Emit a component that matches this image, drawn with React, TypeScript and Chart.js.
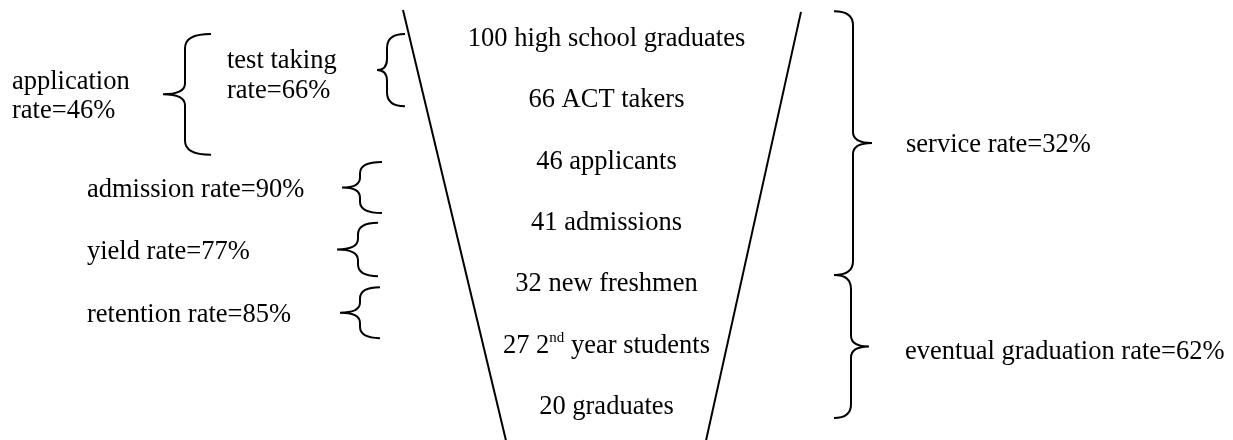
import React, { useEffect, useRef } from "react";
import { Chart, registerables } from "chart.js";

Chart.register(...registerables);

// ---- data ----
const stageCounts = [100, 66, 46, 41, 32, 27, 20];
const stageNames = [
  "high school graduates",
  "ACT takers",
  "applicants",
  "admissions",
  "new freshmen",
  "2nd year students",
  "graduates",
];

const rateNames = [
  "application rate",
  "test taking rate",
  "admission rate",
  "yield rate",
  "retention rate",
  "service rate",
  "eventual graduation rate",
];
const rateValues = [46, 66, 90, 77, 85, 32, 62];
// span of each rate's brace, in stage units (stage rows are 0..6)
const rateSpanFrom = [-0.05, -0.05, 2.04, 3.03, 4.08, -0.42, 3.88];
const rateSpanTo = [1.92, 1.13, 2.87, 3.9, 4.91, 3.88, 6.21];

// funnel outline (x in diagram units, y in stage units)
const funnelLeftX = [403, 506];
const funnelRightX = [801, 706];
const funnelLeftY = [-0.44, 6.58];
const funnelRightY = [-0.41, 6.58];

// ---- layout (positions / styles) ----
const W = 1233;
const H = 440;
const Y_MIN = -0.6033;
const Y_MAX = 6.5707;
const CENTER_X = 606.5;
const FONT = '"Liberation Serif", "Times New Roman", serif';
const FONT_SIZE = 26.5;
const BASE_OFF = 9;
const LINE_GAP = 29.5;

const rateLayout = [
  { labelX: 12, wrap: true, dy: 0, xEnd: 211, xBody: 185, xTip: 163 },
  { labelX: 227, wrap: true, dy: 4, xEnd: 405, xBody: 387, xTip: 377 },
  { labelX: 87, wrap: false, dy: 0, xEnd: 382, xBody: 360, xTip: 342 },
  { labelX: 87, wrap: false, dy: 0, xEnd: 378, xBody: 358, xTip: 337 },
  { labelX: 87, wrap: false, dy: 0, xEnd: 380, xBody: 360, xTip: 340 },
  { labelX: 906, wrap: false, dy: 0, xEnd: 834, xBody: 853, xTip: 872 },
  { labelX: 905, wrap: false, dy: 4, xEnd: 834, xBody: 851, xTip: 869 },
];

function drawBrace(ctx: CanvasRenderingContext2D, xEnd: number, xBody: number, xTip: number, yTop: number, yBot: number) {
  const yMid = (yTop + yBot) / 2;
  const r = Math.min(14, (yBot - yTop) / 4.5);
  const rm = Math.min(11, (yBot - yTop) / 5);
  ctx.beginPath();
  ctx.moveTo(xEnd, yTop);
  ctx.quadraticCurveTo(xBody, yTop, xBody, yTop + r);
  ctx.lineTo(xBody, yMid - rm);
  ctx.quadraticCurveTo(xBody, yMid, xTip, yMid);
  ctx.quadraticCurveTo(xBody, yMid, xBody, yMid + rm);
  ctx.lineTo(xBody, yBot - r);
  ctx.quadraticCurveTo(xBody, yBot, xEnd, yBot);
  ctx.stroke();
}

function drawStageText(ctx: CanvasRenderingContext2D, text: string, cx: number, baseline: number) {
  const m = text.match(/^(\d+ \d+)(st|nd|rd|th)( .*)$/);
  const parts = m
    ? [
        { t: m[1], size: FONT_SIZE, rise: 0 },
        { t: m[2], size: 15, rise: 11 },
        { t: m[3], size: FONT_SIZE, rise: 0 },
      ]
    : [{ t: text, size: FONT_SIZE, rise: 0 }];
  let total = 0;
  const widths = parts.map((p) => {
    ctx.font = `${p.size}px ${FONT}`;
    const w = ctx.measureText(p.t).width;
    total += w;
    return w;
  });
  let x = cx - total / 2;
  parts.forEach((p, i) => {
    ctx.font = `${p.size}px ${FONT}`;
    ctx.fillText(p.t, x, baseline - p.rise);
    x += widths[i];
  });
}

const diagramPlugin = {
  id: "funnelDiagram",
  afterDatasetsDraw(chart: any) {
    const { ctx } = chart;
    const xs = chart.scales.x;
    const ys = chart.scales.y;
    ctx.save();
    ctx.fillStyle = "#000";
    ctx.strokeStyle = "#000";
    ctx.lineWidth = 2;
    ctx.textAlign = "left";
    ctx.textBaseline = "alphabetic";

    // stage labels
    stageCounts.forEach((c, i) => {
      const yb = ys.getPixelForValue(i) + BASE_OFF;
      drawStageText(ctx, `${c} ${stageNames[i]}`, xs.getPixelForValue(CENTER_X), yb);
    });

    // braces and rate labels
    rateNames.forEach((name, i) => {
      const L = rateLayout[i];
      const yTop = ys.getPixelForValue(rateSpanFrom[i]);
      const yBot = ys.getPixelForValue(rateSpanTo[i]);
      drawBrace(ctx, xs.getPixelForValue(L.xEnd), xs.getPixelForValue(L.xBody), xs.getPixelForValue(L.xTip), yTop, yBot);
      const full = `${name}=${rateValues[i]}%`;
      let lines = [full];
      if (L.wrap) {
        const k = full.lastIndexOf("rate=");
        lines = [full.slice(0, k).trim(), full.slice(k)];
      }
      const mid = (yTop + yBot) / 2 + L.dy;
      ctx.font = `${FONT_SIZE}px ${FONT}`;
      lines.forEach((ln, j) => {
        const yb = mid + BASE_OFF + (j - (lines.length - 1) / 2) * LINE_GAP;
        ctx.fillText(ln, xs.getPixelForValue(L.labelX), yb);
      });
    });
    ctx.restore();
  },
};

export default function App() {
  const ref = useRef<HTMLCanvasElement | null>(null);
  useEffect(() => {
    document.body.style.margin = "0";
    if (!ref.current) return;
    const chart = new Chart(ref.current, {
      type: "scatter",
      data: {
        datasets: [
          {
            data: funnelLeftX.map((x, i) => ({ x, y: funnelLeftY[i] })),
            showLine: true,
            borderColor: "#000",
            borderWidth: 2,
            pointRadius: 0,
          },
          {
            data: funnelRightX.map((x, i) => ({ x, y: funnelRightY[i] })),
            showLine: true,
            borderColor: "#000",
            borderWidth: 2,
            pointRadius: 0,
          },
        ],
      },
      options: {
        animation: false,
        responsive: false,
        layout: { padding: 0 },
        plugins: { legend: { display: false }, tooltip: { enabled: false } },
        scales: {
          x: { type: "linear", min: 0, max: W, display: false },
          y: { type: "linear", min: Y_MIN, max: Y_MAX, reverse: true, display: false },
        },
      },
      plugins: [diagramPlugin],
    });
    return () => chart.destroy();
  }, []);
  return (
    <div style={{ position: "absolute", left: 0, top: 0, width: W, height: H, background: "#fff" }}>
      <canvas ref={ref} width={W} height={H} style={{ display: "block" }} />
    </div>
  );
}
